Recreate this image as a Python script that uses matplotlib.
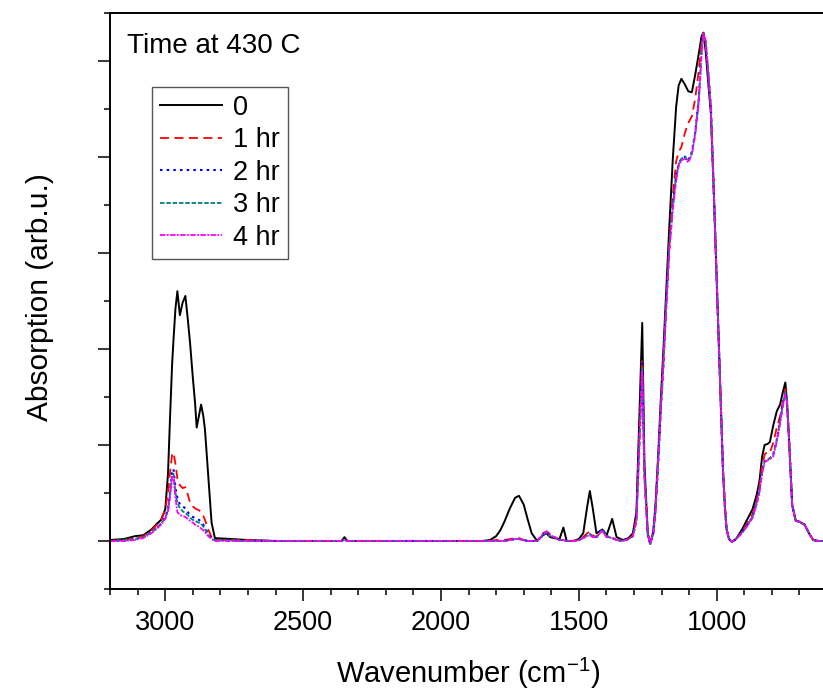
import matplotlib
matplotlib.use("Agg")
import matplotlib.pyplot as plt
from matplotlib.ticker import MultipleLocator, NullFormatter

plt.rcParams['font.family'] = ['Liberation Sans', 'DejaVu Sans']
plt.rcParams['mathtext.fontset'] = 'custom'
plt.rcParams['mathtext.rm'] = 'Liberation Sans'
plt.rcParams['mathtext.it'] = 'Liberation Sans:italic'

# wavenumber grid (cm-1)
wavenumber = [3200, 3150, 3110, 3080, 3050, 3030, 3015, 3000, 2990, 2983,
              2975, 2970, 2963, 2956, 2947, 2937, 2927, 2918, 2910, 2900,
              2892, 2886, 2878, 2870, 2862, 2856, 2844, 2832, 2820, 2700,
              2600, 2360, 2350, 2340, 2200, 2000, 1850, 1822, 1800, 1785,
              1770, 1750, 1731, 1717, 1700, 1685, 1671, 1651, 1630, 1617,
              1604, 1590, 1570, 1556, 1544, 1520, 1500, 1484, 1470, 1460,
              1450, 1436, 1415, 1399, 1379, 1363, 1340, 1320, 1304, 1291,
              1280, 1270, 1262, 1250, 1241, 1230, 1222, 1212, 1203, 1193,
              1184, 1172, 1159, 1147, 1138, 1128, 1115, 1103, 1090, 1078,
              1065, 1055, 1048, 1040, 1030, 1021, 1010, 1002, 995, 990,
              983, 977, 970, 964, 955, 945, 930, 908, 890, 870,
              855, 845, 835, 826, 815, 807, 795, 782, 770, 760,
              751, 745, 738, 726, 713, 700, 681, 665, 650, 630, 600]

abs_0h = [0.01, 0.02, 0.05, 0.06, 0.12, 0.18, 0.22, 0.33, 0.70, 1.26,
          1.85, 2.10, 2.42, 2.60, 2.35, 2.48, 2.55, 2.30, 2.06, 1.70,
          1.44, 1.18, 1.30, 1.42, 1.30, 1.16, 0.67, 0.19, 0.03, 0.01,
          0.00, 0.00, 0.04, 0.00, 0.00, 0.00, 0.00, 0.01, 0.05, 0.11,
          0.20, 0.34, 0.45, 0.47, 0.38, 0.22, 0.08, 0.00, 0.06, 0.08,
          0.04, 0.03, 0.02, 0.14, 0.00, 0.00, 0.02, 0.08, 0.35, 0.52,
          0.35, 0.08, 0.12, 0.06, 0.23, 0.04, 0.01, 0.03, 0.08, 0.30,
          1.35, 2.27, 0.80, 0.08, -0.03, 0.10, 0.37, 0.90, 1.45, 2.00,
          2.54, 3.26, 3.98, 4.52, 4.74, 4.81, 4.75, 4.68, 4.67, 4.85,
          5.07, 5.25, 5.29, 5.10, 4.75, 4.45, 3.60, 2.90, 2.30, 1.82,
          1.25, 0.73, 0.35, 0.12, 0.02, -0.01, 0.02, 0.12, 0.22, 0.33,
          0.48, 0.62, 0.88, 1.00, 1.01, 1.03, 1.20, 1.35, 1.42, 1.55,
          1.65, 1.45, 1.09, 0.37, 0.21, 0.20, 0.17, 0.08, 0.01, 0.00, 0.00]

abs_1h = [0.00, 0.01, 0.03, 0.05, 0.11, 0.17, 0.22, 0.33, 0.50, 0.70,
          0.90, 0.92, 0.80, 0.65, 0.58, 0.55, 0.56, 0.48, 0.40, 0.36,
          0.34, 0.33, 0.32, 0.30, 0.26, 0.22, 0.12, 0.04, 0.01, 0.01,
          0.00, 0.00, 0.02, 0.00, 0.00, 0.00, 0.00, 0.00, 0.01, 0.01,
          0.01, 0.02, 0.03, 0.03, 0.01, 0.00, 0.00, 0.00, 0.08, 0.10,
          0.07, 0.05, 0.01, 0.01, 0.00, 0.00, 0.01, 0.04, 0.08, 0.10,
          0.06, 0.04, 0.11, 0.04, 0.04, 0.01, 0.00, 0.02, 0.06, 0.25,
          1.20, 1.90, 0.70, 0.07, -0.03, 0.08, 0.33, 0.85, 1.38, 1.90,
          2.42, 3.10, 3.60, 3.95, 4.05, 4.10, 4.25, 4.35, 4.42, 4.60,
          4.90, 5.20, 5.29, 5.20, 4.85, 4.50, 3.60, 2.90, 2.30, 1.82,
          1.25, 0.73, 0.35, 0.12, 0.02, -0.01, 0.02, 0.10, 0.18, 0.28,
          0.42, 0.57, 0.78, 0.90, 0.93, 0.92, 1.02, 1.18, 1.30, 1.45,
          1.58, 1.45, 1.09, 0.37, 0.21, 0.20, 0.17, 0.08, 0.01, 0.00, 0.00]

abs_2h = [0.00, 0.00, 0.02, 0.04, 0.09, 0.14, 0.18, 0.25, 0.33, 0.50,
          0.72, 0.75, 0.55, 0.45, 0.38, 0.36, 0.34, 0.30, 0.27, 0.25,
          0.24, 0.23, 0.22, 0.20, 0.17, 0.14, 0.07, 0.03, 0.01, 0.00,
          0.00, 0.00, 0.03, 0.00, 0.00, 0.00, 0.00, 0.00, 0.00, 0.00,
          0.00, 0.01, 0.02, 0.02, 0.01, 0.00, 0.00, 0.00, 0.07, 0.10,
          0.06, 0.04, 0.01, 0.01, 0.00, 0.00, 0.01, 0.03, 0.06, 0.07,
          0.05, 0.04, 0.13, 0.05, 0.03, 0.01, 0.00, 0.02, 0.05, 0.22,
          1.10, 1.85, 0.70, 0.07, -0.03, 0.08, 0.32, 0.83, 1.35, 1.85,
          2.40, 3.05, 3.50, 3.80, 3.92, 3.98, 4.00, 3.96, 4.05, 4.25,
          4.60, 5.10, 5.28, 5.20, 4.85, 4.50, 3.60, 2.90, 2.30, 1.82,
          1.25, 0.73, 0.35, 0.12, 0.02, -0.01, 0.02, 0.09, 0.16, 0.25,
          0.40, 0.52, 0.72, 0.83, 0.85, 0.86, 0.90, 1.05, 1.25, 1.42,
          1.55, 1.45, 1.09, 0.37, 0.21, 0.20, 0.17, 0.08, 0.01, 0.00, 0.00]

abs_3h = [0.00, 0.01, 0.02, 0.04, 0.09, 0.14, 0.18, 0.24, 0.32, 0.48,
          0.68, 0.70, 0.50, 0.40, 0.34, 0.31, 0.29, 0.27, 0.24, 0.22,
          0.21, 0.20, 0.19, 0.18, 0.15, 0.12, 0.06, 0.02, 0.01, 0.00,
          0.00, 0.00, 0.01, 0.00, 0.00, 0.00, 0.00, 0.00, 0.00, 0.00,
          0.00, 0.01, 0.02, 0.02, 0.01, 0.00, 0.00, 0.00, 0.06, 0.09,
          0.05, 0.04, 0.01, 0.01, 0.00, 0.00, 0.01, 0.03, 0.06, 0.07,
          0.05, 0.04, 0.12, 0.05, 0.03, 0.01, 0.00, 0.02, 0.05, 0.22,
          1.05, 1.80, 0.68, 0.07, -0.03, 0.08, 0.32, 0.83, 1.35, 1.85,
          2.40, 3.05, 3.50, 3.80, 3.92, 3.98, 4.00, 3.95, 4.04, 4.25,
          4.60, 5.10, 5.28, 5.20, 4.85, 4.50, 3.60, 2.90, 2.30, 1.82,
          1.25, 0.73, 0.35, 0.12, 0.02, -0.01, 0.02, 0.09, 0.16, 0.25,
          0.40, 0.52, 0.72, 0.83, 0.85, 0.86, 0.90, 1.05, 1.25, 1.42,
          1.55, 1.45, 1.09, 0.37, 0.21, 0.20, 0.17, 0.08, 0.01, 0.00, 0.00]

abs_4h = [0.00, 0.00, 0.01, 0.03, 0.08, 0.13, 0.17, 0.23, 0.30, 0.45,
          0.68, 0.66, 0.45, 0.30, 0.27, 0.26, 0.25, 0.23, 0.21, 0.19,
          0.17, 0.16, 0.15, 0.13, 0.11, 0.09, 0.05, 0.02, 0.00, 0.00,
          0.00, 0.00, 0.01, 0.00, 0.00, 0.00, 0.00, 0.00, 0.00, 0.00,
          0.00, 0.01, 0.02, 0.02, 0.01, 0.00, 0.00, 0.00, 0.07, 0.10,
          0.06, 0.04, 0.01, 0.01, 0.00, 0.00, 0.01, 0.03, 0.05, 0.06,
          0.04, 0.04, 0.11, 0.04, 0.03, 0.01, 0.00, 0.02, 0.05, 0.20,
          1.00, 1.78, 0.66, 0.07, -0.03, 0.08, 0.31, 0.82, 1.34, 1.84,
          2.38, 3.00, 3.45, 3.75, 3.90, 3.96, 3.98, 3.94, 4.02, 4.22,
          4.55, 5.05, 5.28, 5.20, 4.85, 4.50, 3.60, 2.90, 2.30, 1.82,
          1.25, 0.73, 0.35, 0.12, 0.02, -0.01, 0.02, 0.08, 0.15, 0.24,
          0.38, 0.50, 0.70, 0.82, 0.84, 0.85, 0.88, 1.03, 1.22, 1.40,
          1.53, 1.45, 1.09, 0.37, 0.21, 0.20, 0.17, 0.08, 0.01, 0.00, 0.00]

labels = ['0', '1 hr', '2 hr', '3 hr', '4 hr']
colors = ['black', '#ff0000', '#0000ff', '#008080', '#ff00ff']
styles = ['-', (0, (5, 3)), (0, (1.2, 2)), (0, (2.5, 1)), (0, (3, 0.8, 1, 0.8))]
widths = [1.4, 1.3, 1.5, 1.3, 1.3]
series = [abs_0h, abs_1h, abs_2h, abs_3h, abs_4h]

fig = plt.figure(figsize=(8.23, 6.95), dpi=100)
ax = fig.add_axes([0.1338, 0.1525, 0.871, 0.8295])

for y, lab, c, ls, lw in zip(series, labels, colors, styles, widths):
    ax.plot(wavenumber, y, color=c, linestyle=ls, linewidth=lw, label=lab)

ax.set_xlim(3200, 600)
ax.set_ylim(-0.5, 5.5)
ax.xaxis.set_major_locator(MultipleLocator(500))
ax.xaxis.set_minor_locator(MultipleLocator(100))
ax.yaxis.set_major_locator(MultipleLocator(1))
ax.yaxis.set_minor_locator(MultipleLocator(0.5))
ax.yaxis.set_major_formatter(NullFormatter())
ax.tick_params(which='major', direction='out', length=8.5, width=1.1,
               labelsize=19.5, pad=6.5)
ax.tick_params(which='minor', direction='out', length=4.3, width=1.1)
for s in ax.spines.values():
    s.set_linewidth(1.4)
ax.spines['right'].set_visible(False)

# axis titles placed in figure pixels
fig.text(468.5 / 823, 1 - 683 / 695, r'Wavenumber (cm$^{\mathregular{-1}}$)',
         fontsize=21, ha='center', va='baseline')
fig.text(40 / 823, 1 - 297 / 695, 'Absorption (arb.u.)', fontsize=21.5,
         rotation=90, ha='center', va='center')

fig.text(127 / 823, 1 - 53 / 695, 'Time at 430 C', fontsize=20, va='baseline')

leg = ax.legend(loc='upper left', bbox_to_anchor=(151.7 / 823, 1 - 86.7 / 695),
                bbox_transform=fig.transFigure, borderaxespad=0, fontsize=19.5,
                handlelength=2.3, handletextpad=0.4, labelspacing=0.24,
                borderpad=0.3, fancybox=False, framealpha=1)
leg.get_frame().set_edgecolor('#555555')
leg.get_frame().set_linewidth(1.0)

fig.savefig('out.png', dpi=100)
